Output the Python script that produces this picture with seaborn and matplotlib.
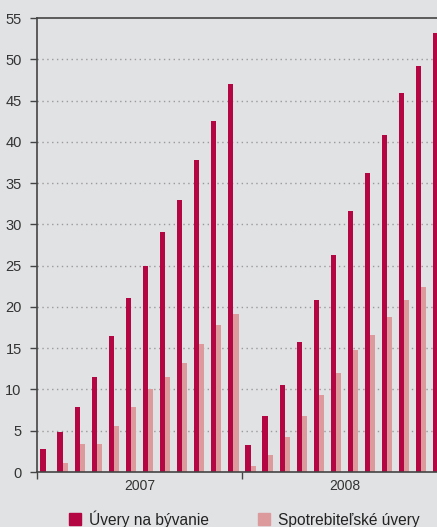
import matplotlib
matplotlib.use("Agg")
import matplotlib.pyplot as plt
from matplotlib.lines import Line2D
import pandas as pd
import seaborn as sns

# Monthly data, January 2007 – December 2008
years = ["2007", "2008"]
months = list(range(1, 13))
housing = [2.8, 4.9, 7.9, 11.5, 16.5, 21.1, 25.0, 29.1, 33.0, 37.8, 42.5, 47.0,
           3.3, 6.8, 10.5, 15.7, 20.8, 26.3, 31.6, 36.2, 40.8, 45.9, 49.2, 53.2]
consumer = [0.0, 1.1, 3.4, 3.4, 5.6, 7.9, 10.0, 11.5, 13.2, 15.5, 17.8, 19.1,
            0.7, 2.1, 4.2, 6.8, 9.3, 12.0, 14.8, 16.6, 18.8, 20.8, 22.4, 24.2]
series_names = ["Úvery na bývanie", "Spotrebiteľské úvery"]
yticks = list(range(0, 56, 5))

colors = ["#b30642", "#dd9a9c"]
bg = "#e1e2e4"

periods = [f"{y}-{m:02d}" for y in years for m in months]
df = pd.DataFrame({
    "period": periods * 2,
    "value": housing + consumer,
    "series": [series_names[0]] * len(periods) + [series_names[1]] * len(periods),
})

sns.set_style("white")
plt.rcParams["font.family"] = ["Liberation Sans", "DejaVu Sans"]

fig = plt.figure(figsize=(4.37, 5.27), dpi=100, facecolor=bg)
ax = fig.add_axes([37 / 437, 1 - 472 / 527, 410 / 437, 454 / 527])
ax.set_facecolor(bg)

sns.barplot(data=df, x="period", y="value", hue="series", order=periods,
            hue_order=series_names, palette=colors, width=0.6, dodge=True,
            saturation=1, linewidth=0, ax=ax, legend=False)

ax.set_xlim(-0.5, len(periods) - 0.5)
ax.set_ylim(0, 55)
ax.set_yticks(yticks)
ax.set_yticklabels([str(t) for t in yticks], fontsize=10.5, color="#333333")
ax.tick_params(axis="y", direction="out", length=5, width=1, color="#444444", pad=6, left=True)

# year separators as major ticks, year names as minor tick labels
ax.set_xticks([-0.5, 11.5])
ax.set_xticklabels(["", ""])
ax.set_xticks([5.5, 17.5], minor=True)
ax.set_xticklabels(years, minor=True, fontsize=10, color="#333333")
ax.tick_params(axis="x", which="major", direction="out", length=5, width=1, color="#444444", bottom=True)
ax.tick_params(axis="x", which="minor", length=0, pad=5)

ax.set_xlabel("")
ax.set_ylabel("")

for y in yticks[1:-1]:
    ax.axhline(y, color="#9a9a9a", lw=1, ls=(0, (1, 2.5)), zorder=0)

for side in ["left", "bottom", "top"]:
    ax.spines[side].set_visible(True)
    ax.spines[side].set_color("#444444")
    ax.spines[side].set_linewidth(1.2)
ax.spines["right"].set_visible(False)

handles = [Line2D([], [], marker="s", ls="", markersize=9, color=c) for c in colors]
fig.legend(handles, series_names, loc="center", bbox_to_anchor=(0.557, 1 - 519 / 527),
           ncol=2, frameon=False, fontsize=11.2, handletextpad=0.4, columnspacing=3.0,
           handlelength=1.0, labelcolor="#222222")

fig.savefig("out.png", dpi=100, facecolor=bg)
